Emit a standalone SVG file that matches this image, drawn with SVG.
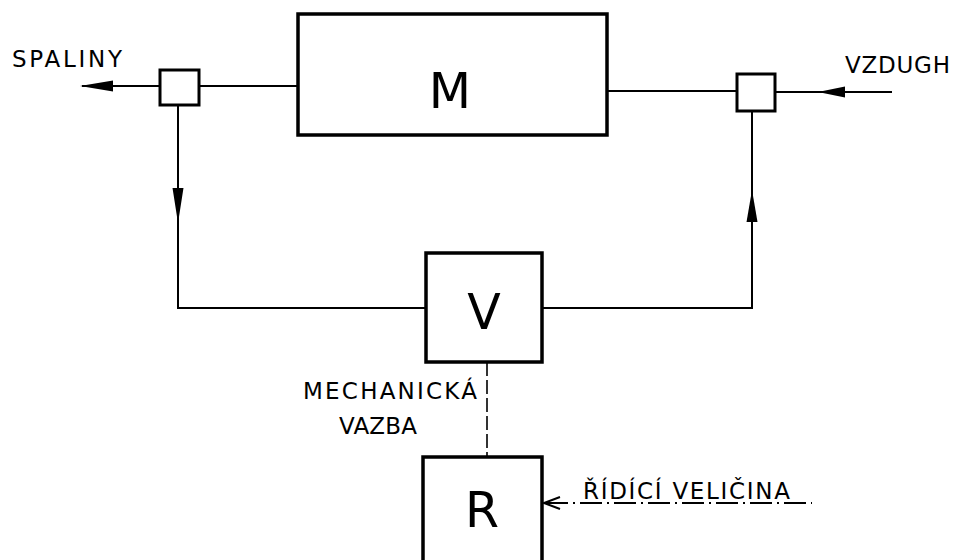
<svg xmlns="http://www.w3.org/2000/svg" width="954" height="560" viewBox="0 0 954 560">
<style>
.box{fill:#fff;stroke:#000;stroke-width:3.5}
.sbox{fill:#fff;stroke:#000;stroke-width:3}
.ln{fill:none;stroke:#000;stroke-width:2}
.dash{fill:none;stroke:#000;stroke-width:1.6;stroke-dasharray:14 4}
.dd{fill:none;stroke:#000;stroke-width:1.8;stroke-dasharray:22 5 2 5}
.big{font-family:"DejaVu Sans","Liberation Sans",sans-serif;font-size:49px;text-anchor:middle;fill:#000}
.lbl{font-family:"DejaVu Sans","Liberation Sans",sans-serif;font-size:23px;fill:#000}
.ah{fill:#000;stroke:none}
</style>
<rect width="954" height="560" fill="#fff"/>
<g id="connectors">
  <line class="ln" x1="199" y1="86" x2="298" y2="86"/>
  <line class="ln" x1="82" y1="86" x2="160" y2="86"/>
  <polygon class="ah" points="80,86 113,80.5 113,91.5"/>
  <line class="ln" x1="607" y1="91" x2="737" y2="91"/>
  <line class="ln" x1="775" y1="92" x2="892" y2="92"/>
  <polygon class="ah" points="818,92 845,86.5 845,97.5"/>
  <polyline class="ln" points="178,105 178,308 426,308"/>
  <polygon class="ah" points="178,223 172.5,188 183.5,188"/>
  <polyline class="ln" points="542,308 752,308 752,111"/>
  <polygon class="ah" points="752,190 746.5,222 757.5,222"/>
  <line class="dash" x1="487" y1="362" x2="487" y2="457"/>
  <line class="dd" x1="546" y1="503" x2="812" y2="503"/>
  <polyline class="ln" points="560,497 544,503 560,509"/>
</g>
<g id="M">
  <rect class="box" x="298" y="14" width="309" height="121"/>
  <text class="big" x="450" y="108">M</text>
</g>
<g id="sensor-left">
  <rect class="sbox" x="160" y="70" width="39" height="35"/>
</g>
<g id="sensor-right">
  <rect class="sbox" x="737" y="74" width="38" height="37"/>
</g>
<g id="V">
  <rect class="box" x="426" y="253" width="116" height="109"/>
  <text class="big" x="484" y="329">V</text>
</g>
<g id="R">
  <rect class="box" x="423" y="457" width="119" height="110"/>
  <text class="big" x="482" y="527">R</text>
</g>
<g id="labels">
  <text class="lbl" x="12" y="67" textLength="110" lengthAdjust="spacing">SPALINY</text>
  <text class="lbl" x="845" y="73" textLength="105" lengthAdjust="spacing">VZDUGH</text>
  <text class="lbl" x="303" y="399" textLength="174" lengthAdjust="spacing">MECHANICKÁ</text>
  <text class="lbl" x="339" y="434" textLength="78" lengthAdjust="spacing">VAZBA</text>
  <text class="lbl" x="583" y="499" textLength="207" lengthAdjust="spacing">ŘÍDÍCÍ VELIČINA</text>
</g>
</svg>
